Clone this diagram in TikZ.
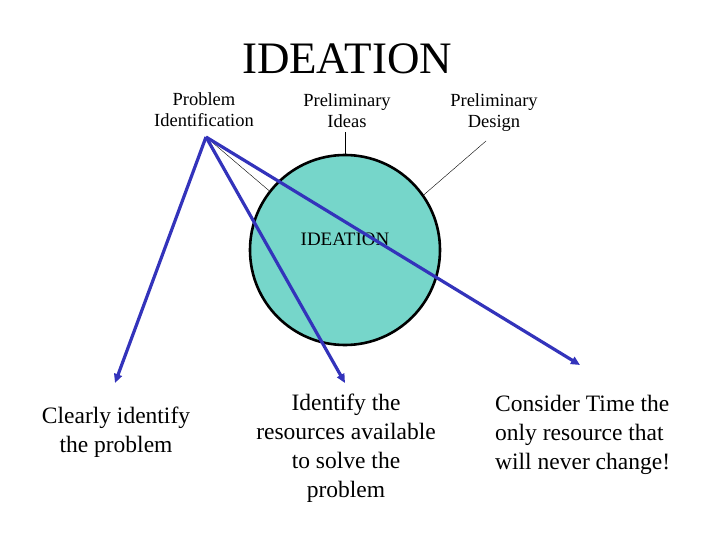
\documentclass[tikz,border=0pt]{standalone}
\usepackage{fontspec}
\setmainfont{Liberation Serif}
\usepackage{tikz}
\usetikzlibrary{arrows.meta,positioning,calc}
\definecolor{arrowblue}{HTML}{3333BB}
\definecolor{aqua}{RGB}{118,214,202}
\tikzset{lbl/.style={align=center,inner sep=0pt,font=\fontsize{18.5}{21.5}\selectfont},
         note/.style={align=center,inner sep=0pt,font=\fontsize{23.5}{29}\selectfont},
         leader/.style={draw=black,thin},
         pointer/.style={-{Triangle[length=9pt,width=8pt]},line width=3.2pt,draw=arrowblue}}

\begin{document}
\begin{tikzpicture}[x=1pt,y=-1pt]
\useasboundingbox (0,0) rectangle (720,540);
\node[inner sep=0pt,font=\fontsize{45}{50}\selectfont,anchor=base] (title) at (347,74) {IDEATION};
% labels round the circle
\node[lbl,anchor=base] (probid) at (204,127) {Problem\\Identification};
\node[lbl,anchor=base] (prelidea) at (347,128) {Preliminary\\Ideas};
\node[lbl,anchor=base] (preldes) at (494,128) {Preliminary\\Design};
\node[circle,draw,line width=2.6pt,fill=aqua,minimum size=190pt,inner sep=0pt] (circ) at (345,250) {};
\node[inner sep=0pt,font=\fontsize{19}{22}\selectfont,anchor=base] (inner) at (345,245) {IDEATION};
% notes at the bottom
\node[note,anchor=base] (clear) at (116,452) {Clearly identify\\the problem};
\node[note,anchor=base] (resrc) at (346,497) {Identify the\\resources available\\to solve the\\problem};
\node[note,anchor=base west,align=left] (timenote) at (495,469) {Consider Time the\\only resource that\\will never change!};
\coordinate (apex) at (206,137);
\coordinate (descorner) at (486,141);
\coordinate (tipa) at (115,383);
\coordinate (tipb) at (345,383);
\coordinate (tipc) at (580,365);
\draw[leader] (apex) -- (circ.142);
\draw[leader] (prelidea.south) ++(-2,4) -- (circ.north);
\draw[leader] (descorner) -- (circ.35);
\draw[pointer] (apex) -- (tipa);
\draw[pointer] (apex) -- (tipb);
\draw[pointer] (apex) -- (tipc);
\end{tikzpicture}
\end{document}
